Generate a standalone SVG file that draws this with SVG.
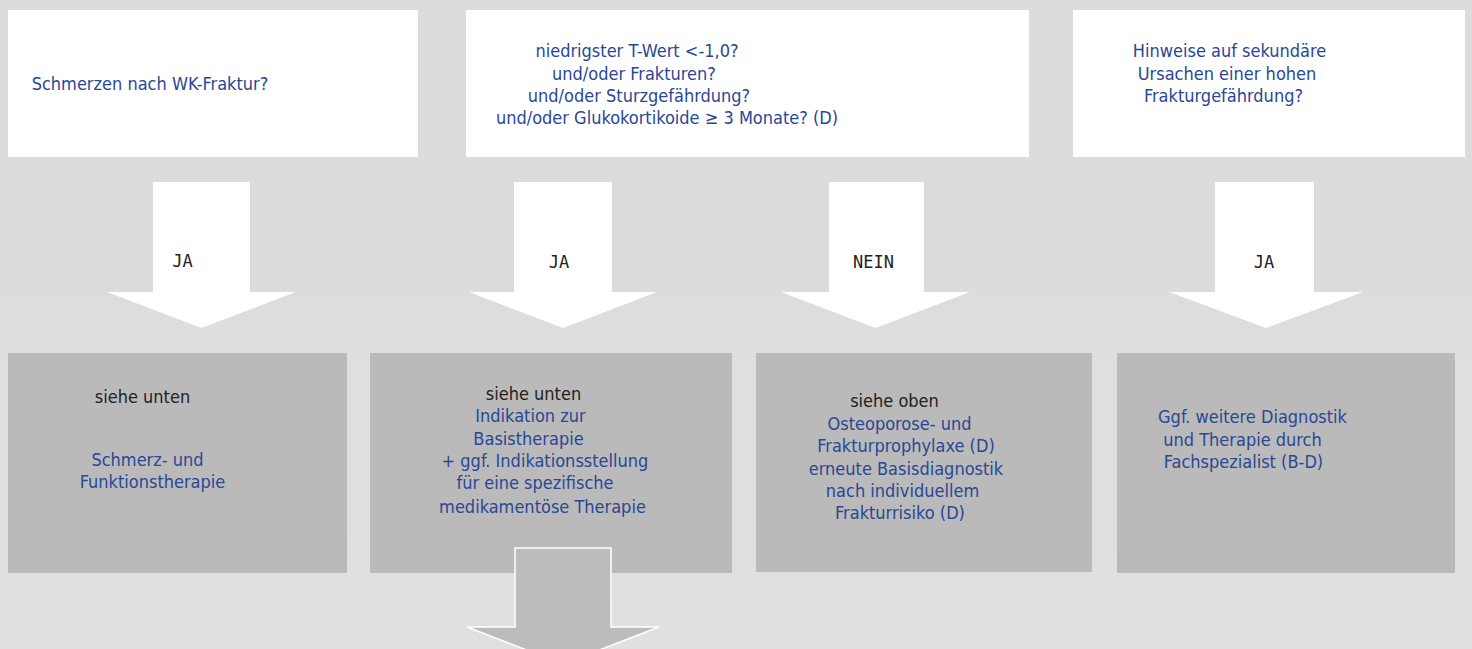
<svg xmlns="http://www.w3.org/2000/svg" width="1472" height="649" viewBox="0 0 1472 649">
<defs>
<linearGradient id="bg" x1="0" y1="0" x2="0" y2="1">
<stop offset="0" stop-color="#dcdcdc"/>
<stop offset="0.45" stop-color="#dcdcdc"/>
<stop offset="0.56" stop-color="#dfdfdf"/>
<stop offset="1" stop-color="#e0e0e0"/>
</linearGradient>
</defs>
<style>
.q{fill:#ffffff}
.r{fill:#bababa}
.t{font-family:'DejaVu Sans Condensed','DejaVu Sans',sans-serif;font-stretch:condensed;font-size:18px;fill:#2a4795;text-anchor:middle}
.k{fill:#222222}
.lbl{font-family:'DejaVu Sans Mono','Liberation Mono',monospace;font-size:17px;fill:#222222;text-anchor:middle}
.arr{fill:#ffffff}
.arr2{fill:#bcbcbc;stroke:#ffffff;stroke-width:1.5}
</style>
<rect x="0" y="0" width="1472" height="649" fill="url(#bg)"/>

<g id="q1">
<rect class="q" x="8" y="10" width="410" height="147"/>
<text class="t" x="150" y="90">Schmerzen nach WK-Fraktur?</text>
</g>
<g id="q2">
<rect class="q" x="466" y="10" width="563" height="147"/>
<text class="t" x="637" y="57">niedrigster T-Wert &lt;-1,0?</text>
<text class="t" x="634" y="80">und/oder Frakturen?</text>
<text class="t" x="639" y="102">und/oder Sturzgefährdung?</text>
<text class="t" x="667" y="124">und/oder Glukokortikoide ≥ 3 Monate? (D)</text>
</g>
<g id="q3">
<rect class="q" x="1073" y="10" width="392" height="147"/>
<text class="t" x="1229.5" y="57">Hinweise auf sekundäre</text>
<text class="t" x="1227" y="80">Ursachen einer hohen</text>
<text class="t" x="1223.5" y="102">Frakturgefährdung?</text>
</g>

<g id="a1">
<rect class="r" x="8" y="353" width="339" height="220"/>
<text class="t k" x="142.5" y="403">siehe unten</text>
<text class="t" x="147.5" y="466">Schmerz- und</text>
<text class="t" x="152.5" y="488">Funktionstherapie</text>
</g>
<g id="a2">
<rect class="r" x="370" y="353" width="362" height="220"/>
<text class="t k" x="533.5" y="400">siehe unten</text>
<text class="t" x="530.5" y="422">Indikation zur</text>
<text class="t" x="528.5" y="445">Basistherapie</text>
<text class="t" x="545" y="467">+ ggf. Indikationsstellung</text>
<text class="t" x="535" y="489">für eine spezifische</text>
<text class="t" x="542.5" y="513">medikamentöse Therapie</text>
</g>
<g id="a3">
<rect class="r" x="756" y="353" width="336" height="219"/>
<text class="t k" x="894.5" y="407">siehe oben</text>
<text class="t" x="899.5" y="430">Osteoporose- und</text>
<text class="t" x="906" y="452">Frakturprophylaxe (D)</text>
<text class="t" x="906" y="475">erneute Basisdiagnostik</text>
<text class="t" x="902.5" y="497">nach individuellem</text>
<text class="t" x="900" y="519">Frakturrisiko (D)</text>
</g>
<g id="a4">
<rect class="r" x="1117" y="353" width="338" height="220"/>
<text class="t" x="1252.5" y="423">Ggf. weitere Diagnostik</text>
<text class="t" x="1242.5" y="446">und Therapie durch</text>
<text class="t" x="1243.5" y="468">Fachspezialist (B-D)</text>
</g>

<g id="connectors">
<polygon class="arr" points="153,182 250,182 250,292 296,292 201.5,328 107,292 153,292"/>
<polygon class="arr" points="514,182 612,182 612,292 657,292 563,328 469,292 514,292"/>
<polygon class="arr" points="829,182 924,182 924,292 970,292 875.5,328 781,292 829,292"/>
<polygon class="arr" points="1215,182 1314,182 1314,292 1363,292 1266,328 1169,292 1215,292"/>
<polygon class="arr2" points="515,548 611,548 611,627 659,627 563,664 467,627 515,627"/>
<text class="lbl" x="182.5" y="267">JA</text>
<text class="lbl" x="559" y="268">JA</text>
<text class="lbl" x="873.5" y="268">NEIN</text>
<text class="lbl" x="1264" y="268">JA</text>
</g>
</svg>
